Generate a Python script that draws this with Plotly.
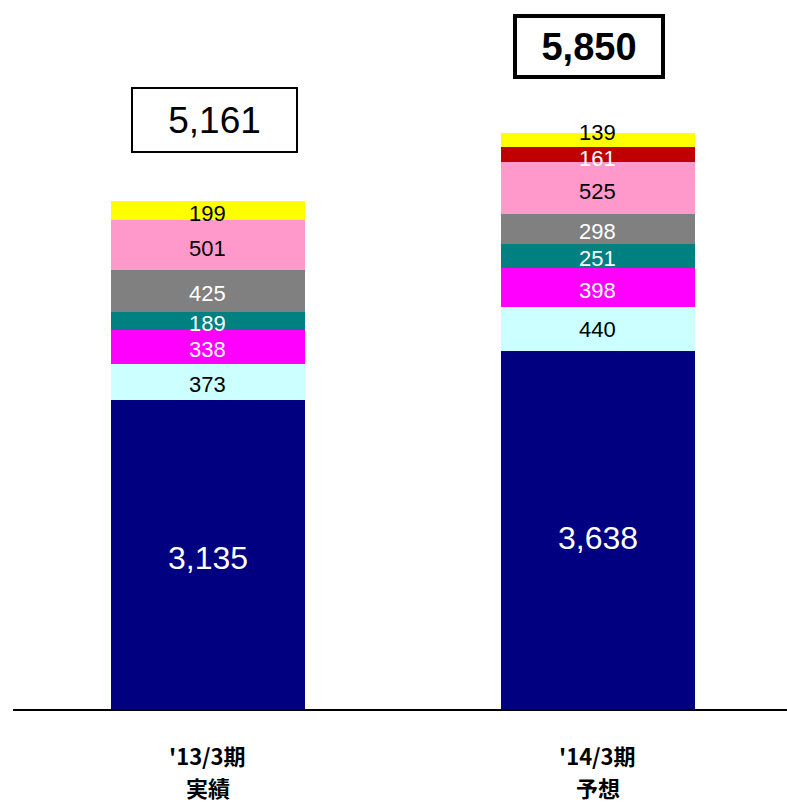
import plotly.graph_objects as go

# Fiscal periods (x categories), two text lines each
period_labels = ["'13/3期", "'14/3期"]
period_kinds = ["実績", "予想"]
totals = [5161, 5850]

# Stacked segments, bottom to top
seg_navy = [3135, 3638]
seg_cyan = [373, 440]
seg_magenta = [338, 398]
seg_teal = [189, 251]
seg_gray = [425, 298]
seg_pink = [501, 525]
seg_red = [0, 161]
seg_yellow = [199, 139]

segments = [seg_navy, seg_cyan, seg_magenta, seg_teal, seg_gray, seg_pink, seg_red, seg_yellow]
fill_colors = ["#000080", "#CCFFFF", "#FF00FF", "#008080", "#808080", "#FF99CC", "#C00000", "#FFFF00"]
label_colors = ["white", "black", "white", "white", "white", "black", "white", "black"]
label_sizes = [32, 22, 22, 22, 22, 22, 22, 22]

NUM_FONT = "Liberation Sans, Arial, sans-serif"
CAT_FONT = dict(family="Noto Sans CJK JP", size=22, color="black", weight="bold")
x_pos = list(range(len(period_labels)))

# pixel nudges for labels that would otherwise crowd (segment index, bar index)
label_nudge = {(0, 1): -5, (1, 1): 3, (6, 1): -1, (7, 1): 10}

fig = go.Figure()
for vals, col in zip(segments, fill_colors):
    fig.add_trace(go.Bar(
        x=x_pos, y=vals, width=0.497,
        marker=dict(color=col, line=dict(width=0)),
        hoverinfo="skip", showlegend=False,
    ))

annotations = []
# value labels centred in each segment
base = [0] * len(x_pos)
for s, (vals, tcol, tsize) in enumerate(zip(segments, label_colors, label_sizes)):
    for i, v in enumerate(vals):
        if v > 0:
            annotations.append(dict(
                x=x_pos[i], y=base[i] + v / 2, xref="x", yref="y",
                text=f"{v:,}", showarrow=False,
                yshift=-3 + label_nudge.get((s, i), 0),
                font=dict(family=NUM_FONT, size=tsize, color=tcol),
            ))
        base[i] += v

# boxed totals above the bars
annotations.append(dict(
    x=x_pos[0] + 0.017, y=base[0], xref="x", yref="y", yanchor="bottom", yshift=48,
    text=f"{totals[0]:,}", showarrow=False,
    font=dict(family=NUM_FONT, size=37, color="black"),
    bordercolor="black", borderwidth=2, borderpad=0, width=163, height=62,
    bgcolor="white",
))
annotations.append(dict(
    x=x_pos[1] - 0.023, y=base[1], xref="x", yref="y", yanchor="bottom", yshift=54,
    text=f"<b>{totals[1]:,}</b>", showarrow=False,
    font=dict(family=NUM_FONT, size=38, color="black"),
    bordercolor="black", borderwidth=4, borderpad=0, width=144, height=57,
    bgcolor="white",
))

# category captions below the axis line
for i in x_pos:
    annotations.append(dict(
        x=x_pos[i], y=0, xref="x", yref="paper", yanchor="middle", yshift=-46,
        text=period_labels[i], showarrow=False, font=CAT_FONT,
    ))
    annotations.append(dict(
        x=x_pos[i], y=0, xref="x", yref="paper", yanchor="middle", yshift=-78,
        text=period_kinds[i], showarrow=False, font=CAT_FONT,
    ))

fig.update_layout(
    width=787, height=804,
    margin=dict(l=13, r=0, t=0, b=95),
    barmode="stack",
    paper_bgcolor="white", plot_bgcolor="white",
    annotations=annotations,
    xaxis=dict(
        range=[-0.5, 1.485], tickvals=x_pos, showticklabels=False,
        showline=True, linecolor="black", linewidth=2,
        showgrid=False, zeroline=False, ticks="",
        automargin=False,
    ),
    yaxis=dict(range=[0, 7200], visible=False, showgrid=False, zeroline=False),
)

fig.write_html("out.html")
